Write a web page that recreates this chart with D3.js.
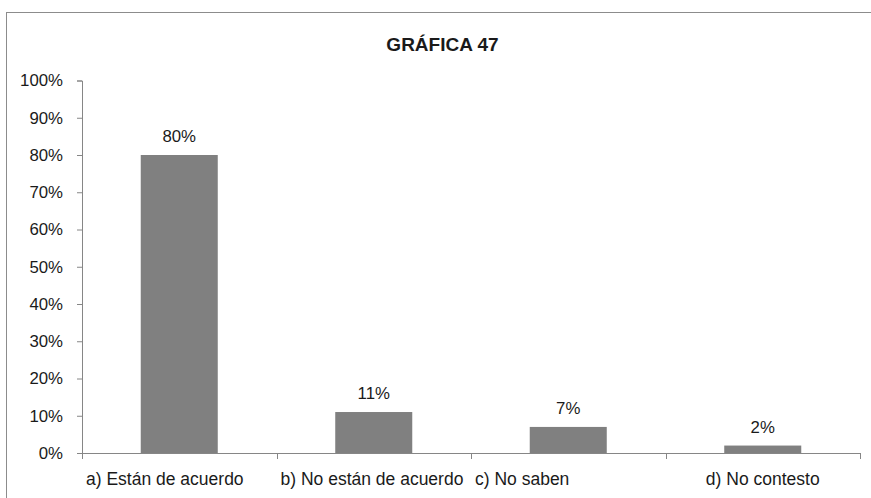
<!DOCTYPE html>
<html lang="es">
<head>
    <meta charset="UTF-8">
    <title>GRÁFICA 47</title>
    <script src="https://d3js.org/d3.v7.min.js"></script>
    <style>
        body { margin: 0; background: #fff; font-family: "Liberation Sans", Arial, sans-serif; }
    </style>
</head>
<body>
    <div id="chart"></div>
    <script>
        // Data
        const categories = ["a) Están de acuerdo", "b) No están de acuerdo", "c) No saben", "d) No contesto"];
        const values = [80, 11, 7, 2];
        const yTicks = [0, 10, 20, 30, 40, 50, 60, 70, 80, 90, 100];
        const title = "GRÁFICA 47";

        const width = 871, height = 498;
        const plot = {left: 82, right: 860, top: 80.5, bottom: 453};
        const axisColor = "#868686";

        const svg = d3.select("#chart")
            .append("svg")
            .attr("width", width)
            .attr("height", height);

        // outer frame (right and bottom edges fall outside the picture)
        svg.append("rect")
            .attr("x", 6.5).attr("y", 12.5)
            .attr("width", 900).attr("height", 520)
            .attr("fill", "#fff")
            .attr("stroke", "#8c8c8c")
            .attr("stroke-width", 1);

        svg.append("text")
            .attr("x", 442.5)
            .attr("y", 51)
            .attr("text-anchor", "middle")
            .attr("font-size", 19)
            .attr("font-weight", "bold")
            .attr("fill", "#1a1a1a")
            .text(title);

        const x = d3.scaleBand()
            .domain(categories)
            .range([plot.left, plot.right])
            .padding(0);

        const y = d3.scaleLinear()
            .domain([0, 100])
            .range([plot.bottom, plot.top]);

        const barW = x.bandwidth() * 0.396;

        // y axis
        const yAxis = svg.append("g")
            .attr("transform", `translate(${plot.left},0)`)
            .call(d3.axisLeft(y).tickValues(yTicks).tickSize(5).tickPadding(14).tickFormat(d => d + "%"));
        yAxis.select(".domain").attr("stroke", axisColor);
        yAxis.selectAll(".tick line").attr("stroke", axisColor);
        yAxis.selectAll(".tick text")
            .attr("font-family", "Liberation Sans, Arial, sans-serif")
            .attr("font-size", 16.8)
            .attr("fill", "#1a1a1a");

        // bars
        svg.selectAll("rect.bar")
            .data(values)
            .join("rect")
            .attr("class", "bar")
            .attr("x", (d, i) => x(categories[i]) + (x.bandwidth() - barW) / 2)
            .attr("y", d => y(d))
            .attr("width", barW)
            .attr("height", d => y(0) - y(d))
            .attr("fill", "#808080");

        // value labels
        svg.selectAll("text.val")
            .data(values)
            .join("text")
            .attr("class", "val")
            .attr("x", (d, i) => x(categories[i]) + x.bandwidth() / 2)
            .attr("y", d => y(d) - 13)
            .attr("text-anchor", "middle")
            .attr("font-size", 16.8)
            .attr("fill", "#1a1a1a")
            .text(d => d + "%");

        // x axis line + boundary ticks
        const xAxis = svg.append("g");
        xAxis.append("line")
            .attr("x1", plot.left).attr("x2", plot.right)
            .attr("y1", y(0) + 0.5).attr("y2", y(0) + 0.5)
            .attr("stroke", axisColor);
        const edges = categories.map(c => x(c)).concat([plot.right]);
        xAxis.selectAll("line.tk")
            .data(edges)
            .join("line")
            .attr("class", "tk")
            .attr("x1", d => Math.round(d) + 0.5).attr("x2", d => Math.round(d) + 0.5)
            .attr("y1", y(0)).attr("y2", y(0) + 6)
            .attr("stroke", axisColor);

        // category labels: the crowded ones sit at the left of their slot, the last one is centred
        xAxis.selectAll("text.cat")
            .data(categories)
            .join("text")
            .attr("class", "cat")
            .attr("x", (d, i) => i === categories.length - 1 ? x(d) + x.bandwidth() / 2 : x(d) + 4)
            .attr("y", 485)
            .attr("text-anchor", (d, i) => i === categories.length - 1 ? "middle" : "start")
            .attr("font-size", 17.5)
            .attr("fill", "#1a1a1a")
            .text(d => d);
    </script>
</body>
</html>
